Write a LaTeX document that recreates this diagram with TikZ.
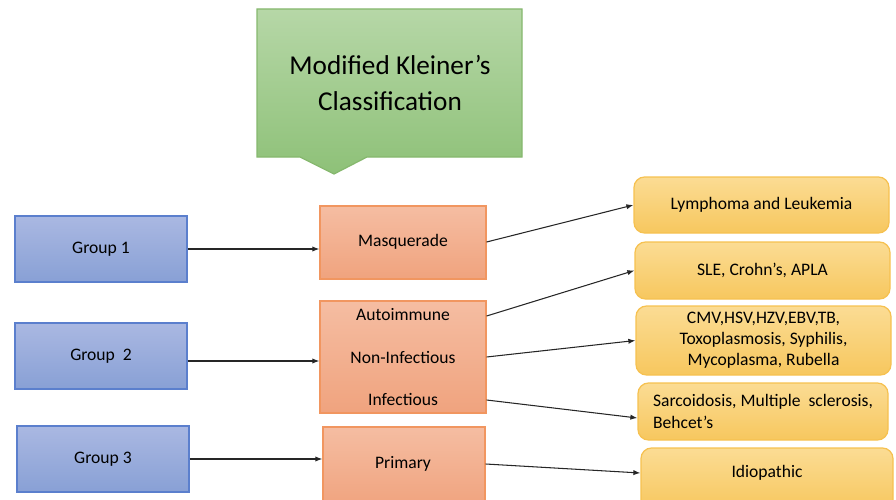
\documentclass[tikz,border=0pt]{standalone}
\usepackage{fontspec}
\setmainfont{Carlito}
\usetikzlibrary{arrows.meta}
\definecolor{grptop}{RGB}{170,184,226}
\definecolor{grpbot}{RGB}{136,160,213}
\definecolor{grpline}{RGB}{91,127,205}
\definecolor{cattop}{RGB}{245,189,162}
\definecolor{catbot}{RGB}{240,163,126}
\definecolor{catline}{RGB}{241,150,96}
\definecolor{distop}{RGB}{251,220,148}
\definecolor{disbot}{RGB}{247,199,94}
\definecolor{disline}{RGB}{246,193,80}
\definecolor{tittop}{RGB}{182,215,167}
\definecolor{titbot}{RGB}{142,193,120}
\definecolor{titline}{RGB}{134,184,110}

\begin{document}
\begin{tikzpicture}[
    x=0.02cm, y=-0.02cm,
    arr/.style={line width=0.6pt, black!85, -{Latex[length=4pt, width=3pt]}},
    grp/.style={draw=grpline, line width=0.7pt, top color=grptop, bottom color=grpbot,
        minimum width=172*0.02cm, minimum height=66*0.02cm, font=\fontsize{10}{12}\selectfont},
    cat/.style={draw=catline, line width=0.7pt, top color=cattop, bottom color=catbot,
        minimum width=166*0.02cm},
    dis/.style={draw=disline, line width=0.7pt, rounded corners=6pt, top color=distop, bottom color=disbot,
        minimum width=255*0.02cm, align=center, font=\fontsize{10}{12}\selectfont},
    lab/.style={font=\fontsize{10}{12}\selectfont},
  ]
  \useasboundingbox (0,0) rectangle (896,500);

  % title callout
  \shade[top color=tittop, bottom color=titbot, draw=titline, line width=0.7pt]
    (257,9) -- (522,9) -- (522,157) -- (367,157) -- (334,174) -- (300,157) -- (257,157) -- cycle;
  \node[align=center, font=\fontsize{15.5}{20}\selectfont] (title) at (390,83) {Modified Kleiner’s\\Classification};

  % groups
  \node[grp] (g1) at (101,249) {Group 1};
  \node[grp] (g2) at (101,356) {Group\ \ 2};
  \node[grp] (g3) at (103,459) {Group 3};

  % categories
  \node[cat, minimum height=73*0.02cm] (masq) at (403,242.5) {};
  \node[lab] (masqt) at (403,242) {Masquerade};
  \node[cat, minimum height=112*0.02cm] (mid) at (403,357) {};
  \node[lab] (auto) at (403,315) {Autoimmune};
  \node[lab] (noninf) at (403,357) {Non-Infectious};
  \node[lab] (inf) at (403,399) {Infectious};
  \node[cat, minimum width=162*0.02cm, minimum height=80*0.02cm] (prim) at (404,467) {};
  \node[lab] (primt) at (403,464) {Primary};

  % diseases
  \node[dis, minimum height=56*0.02cm] (lymph) at (761.5,205) {Lymphoma and Leukemia};
  \node[dis, minimum height=57*0.02cm] (sle) at (762.5,270.5) {SLE, Crohn’s, APLA};
  \node[dis, minimum height=69*0.02cm] (cmv) at (763.5,340.5) {CMV,HSV,HZV,EBV,TB,\\Toxoplasmosis, Syphilis,\\Mycoplasma, Rubella};
  \node[dis, minimum width=250*0.02cm, minimum height=57*0.02cm, align=left] (sarc) at (763,411.5) {Sarcoidosis, Multiple\ \ sclerosis,\\Behcet’s\hphantom{, Multiple\ \ sclerosis,}};
  \node[dis, minimum width=252*0.02cm, minimum height=62*0.02cm] (idio) at (767,479) {};
  \node[lab] (idiot) at (767,473) {Idiopathic};

  % connectors
  \draw[arr] (g1.east) -- (masq.west |- g1.east);
  \draw[arr] (g2.east |- 0,361) -- (mid.west |- 0,361);
  \draw[arr] (g3.east) -- (prim.west |- g3.east);

  \draw[arr] (masq.east |- 0,242) -- (lymph.west);
  \draw[arr] (mid.east |- 0,316) -- (sle.west);
  \draw[arr] (mid.east |- noninf) -- (cmv.west);
  \draw[arr] (mid.east |- 0,400) -- (sarc.west |- 0,418);
  \draw[arr] (prim.east |- primt) -- (idio.west |- idiot);
\end{tikzpicture}
\end{document}
